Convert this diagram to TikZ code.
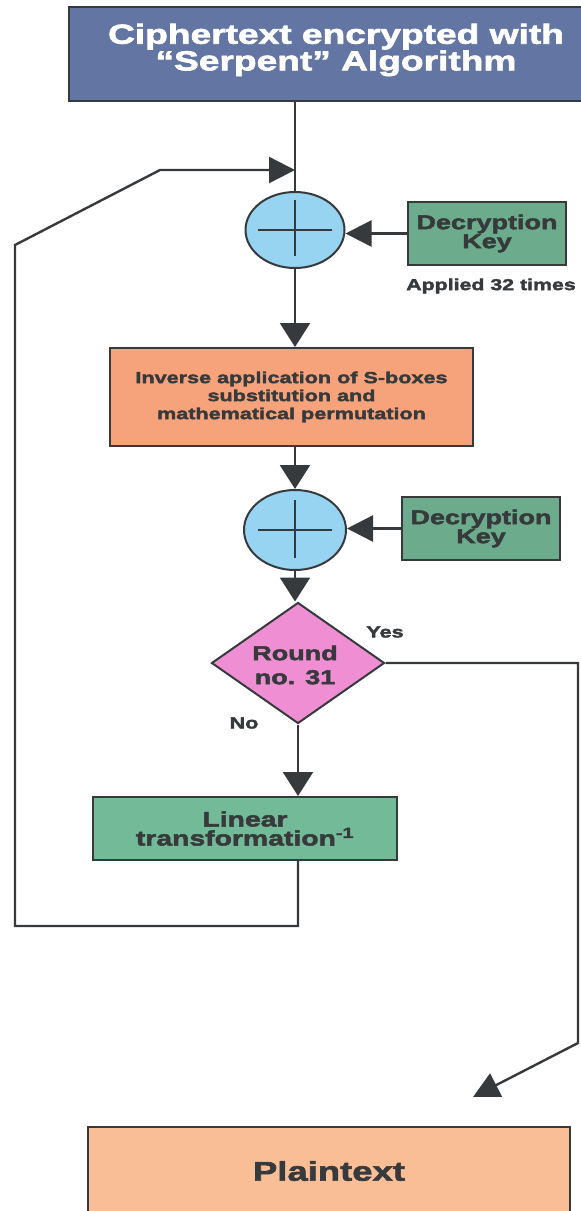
\documentclass[tikz,border=0pt]{standalone}
\usepackage{fontspec}
\setmainfont{Liberation Sans}
\newfontfamily\heavy{Liberation Sans Bold}[FakeBold=2.4,FakeStretch=1.35]
\usetikzlibrary{arrows.meta,shapes.geometric,calc}

\definecolor{inkgray}{RGB}{55,58,60}
\definecolor{titleblue}{RGB}{99,118,163}
\definecolor{xorblue}{RGB}{150,212,242}
\definecolor{keygreen}{RGB}{108,172,140}
\definecolor{sboxorange}{RGB}{246,162,122}
\definecolor{roundpink}{RGB}{240,142,212}
\definecolor{lingreen}{RGB}{114,186,152}
\definecolor{plainorange}{RGB}{250,190,150}

\tikzset{
  box/.style={draw=inkgray, line width=2pt, rectangle, align=center,
    inner sep=0pt, text=inkgray, font=\heavy},
  xor/.style={draw=inkgray, line width=2pt, ellipse, fill=xorblue,
    inner sep=0pt},
  wire/.style={draw=inkgray, line width=2.4pt},
  arr/.style={wire, -{Triangle[length=24pt,width=30pt]}},
  sidearr/.style={wire, -{Triangle[length=26pt,width=26pt]}},
  tag/.style={text=inkgray, font=\heavy, inner sep=0pt}
}

\begin{document}
\begin{tikzpicture}[x=1pt,y=-1pt]
\useasboundingbox (0,0) rectangle (581,1211);
\clip (0,0) rectangle (581,1211);

% blocks
\node[box, fill=titleblue, minimum width=534pt, minimum height=94pt]
  (title) at (336,54) {};
\node[tag, text=white, align=center,
  font=\heavy\fontsize{27.5}{25.5}\selectfont] (titletxt) at (336,50)
  {Ciphertext encrypted with\\“Serpent” Algorithm};

\node[xor, minimum width=99pt, minimum height=76pt] (xa) at (295,230) {};
\node[box, fill=keygreen, minimum width=158pt, minimum height=63pt,
  font=\heavy\fontsize{20}{19}\selectfont] (ka) at (487,233.5)
  {Decryption\\Key};
\node[tag, font=\heavy\fontsize{15.8}{16}\selectfont] (applied) at (491,286)
  {Applied 32 times};

\node[box, fill=sboxorange, minimum width=363pt, minimum height=98pt,
  font=\heavy\fontsize{16}{18}\selectfont] (sbox) at (291.5,397)
  {Inverse application of S-boxes\\substitution and\\mathematical permutation};

\node[xor, minimum width=102pt, minimum height=80pt] (xb) at (295,530) {};
\node[box, fill=keygreen, minimum width=158pt, minimum height=63pt,
  font=\heavy\fontsize{20}{19}\selectfont] (kb) at (481,528.5)
  {Decryption\\Key};

\node[diamond, draw=inkgray, line width=2pt, fill=roundpink, inner sep=0pt,
  minimum width=173pt, minimum height=121pt] (round) at (298,663) {};
\node[tag, align=center, font=\heavy\fontsize{20}{24}\selectfont] (roundtxt)
  at (295,665) {Round\\no. 31};
\node[tag, font=\heavy\fontsize{16}{16}\selectfont] (yes) at (385,632) {Yes};
\node[tag, font=\heavy\fontsize{16}{16}\selectfont] (no) at (244,723) {No};

\node[box, fill=lingreen, minimum width=304pt, minimum height=63pt,
  font=\heavy\fontsize{21}{19}\selectfont] (lin) at (245,828.5)
  {Linear\\transformation\textsuperscript{-1}};

\node[box, fill=plainorange, minimum width=482pt, minimum height=88pt,
  font=\heavy\fontsize{27}{24}\selectfont] (plain) at (329,1171)
  {Plaintext};

% plus signs inside the XOR ellipses
\draw[wire, line width=2.6pt] ($(xa.center)+(-37,0)$) -- ($(xa.center)+(37,0)$)
  ($(xa.center)+(0,-30)$) -- ($(xa.center)+(0,26)$);
\draw[wire, line width=2.6pt] ($(xb.center)+(-37,0)$) -- ($(xb.center)+(37,0)$)
  ($(xb.center)+(0,-30)$) -- ($(xb.center)+(0,28)$);

% main flow
\draw[wire] (title.south -| xa.north) -- (xa.north);
\draw[sidearr] (ka.west) -- (ka.west -| xa.east);
\draw[arr] (xa.south) -- (xa.south |- sbox.north);
\draw[arr] (sbox.south -| xb.north) -- (xb.north);
\draw[sidearr] (kb.west) -- (kb.west -| xb.east);
\draw[arr] (xb.south) -- (xb.south |- round.north);
\draw[arr] (round.south) -- (round.south |- lin.north);

% feedback loop for the next round
\coordinate (loopbl) at (15,926);
\coordinate (looptl) at (15,245);
\coordinate (loopbend) at (160,170);
\draw[sidearr] (lin.south -| round.south) |- (loopbl) -- (looptl)
  -- (loopbend) -- (loopbend -| xa.north);

% exit after the last round
\coordinate (exitr) at (578,1043);
\coordinate (exittip) at (473,1097);
\draw[sidearr] (round.east) -| (exitr) -- (exittip);
\end{tikzpicture}
\end{document}
